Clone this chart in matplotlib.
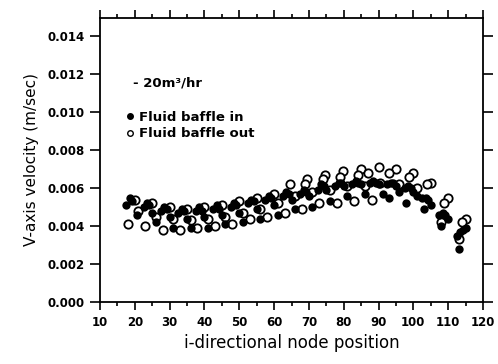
import matplotlib
matplotlib.use("Agg")
import matplotlib.pyplot as plt
from matplotlib.lines import Line2D
from matplotlib.ticker import MultipleLocator

# ---- data ----
in_upper_x = [17.5, 18.5, 19.2, 20.5, 22.5, 23.5, 24.2, 25, 27.5, 28.5, 29.2, 30,
              32.5, 33.5, 34.2, 35, 37.5, 38.5, 39.2, 40, 42.5, 43.5, 44.2, 45,
              47.5, 48.5, 49.2, 50, 52.5, 53.5, 54.2, 55, 57.5, 58.5, 59.2, 60,
              62.5, 63.5, 64.2, 65, 67.5, 68.5, 69.2, 70, 72.5, 73.5, 74.2, 75,
              77.5, 78.5, 79.2, 80, 82.5, 83.5, 84.2, 85, 87.5, 88.5, 89.2, 90,
              92.5, 93.5, 94.2, 95, 97.5, 98.5, 99.2, 100, 102.5, 103.5, 104.2, 105,
              107.5, 108.5, 109.2, 110, 112.5, 113.5, 114.2, 115]
in_upper_y = [0.0051, 0.0055, 0.0053, 0.0046, 0.0050, 0.0052, 0.0051, 0.0047,
              0.0048, 0.0050, 0.0049, 0.0045, 0.0047, 0.0049, 0.0048, 0.0044,
              0.0048, 0.0050, 0.0048, 0.0045, 0.0049, 0.0051, 0.0049, 0.0046,
              0.0050, 0.0052, 0.0051, 0.0047, 0.0052, 0.0054, 0.0053, 0.0049,
              0.0054, 0.0056, 0.0055, 0.0051, 0.0056, 0.0058, 0.0057, 0.0054,
              0.0057, 0.0059, 0.0058, 0.0056, 0.0059, 0.0062, 0.0061, 0.0059,
              0.0061, 0.0063, 0.0063, 0.0061, 0.0062, 0.0064, 0.0063, 0.0062,
              0.0063, 0.0064, 0.0063, 0.0062, 0.0062, 0.0063, 0.0063, 0.0061,
              0.0060, 0.0061, 0.0060, 0.0058, 0.0055, 0.0055, 0.0054, 0.0051,
              0.0046, 0.0047, 0.0046, 0.0044, 0.0035, 0.0037, 0.0038, 0.0039]
in_lower_x = [26, 31, 36, 41, 46, 51, 56, 61, 66, 71, 76, 81, 86, 91.4, 93, 96,
              98, 101, 103, 108, 113]
in_lower_y = [0.0042, 0.0039, 0.0039, 0.0039, 0.0041, 0.0042, 0.0044, 0.0046,
              0.0049, 0.0050, 0.0053, 0.0056, 0.0057, 0.0057, 0.0055, 0.0058,
              0.0052, 0.0056, 0.0049, 0.0040, 0.0028]

out_upper_x = [20, 21, 25, 26, 30, 31, 35, 36, 40, 41, 45, 46, 50, 51, 55, 56,
               60, 61, 64.5, 66, 69.5, 68.8, 71, 74.6, 74, 76, 79.8, 79, 81,
               85, 84, 86, 90, 87, 90.5, 95, 93, 96, 100, 98.8, 101, 105, 103.8,
               110, 108.7, 115, 114]
out_upper_y = [0.0054, 0.0048, 0.0052, 0.0045, 0.0050, 0.0044, 0.0049, 0.0043,
               0.0050, 0.0044, 0.0051, 0.0045, 0.0053, 0.0047, 0.0055, 0.0049,
               0.0057, 0.0052, 0.0062, 0.0056, 0.0065, 0.0062, 0.0058, 0.0067,
               0.0065, 0.0059, 0.0069, 0.0066, 0.0061, 0.0070, 0.0067, 0.0061,
               0.0071, 0.0068, 0.0063, 0.0070, 0.0068, 0.0062, 0.0068, 0.0066,
               0.0060, 0.0063, 0.0062, 0.0055, 0.0052, 0.0044, 0.0042]
out_lower_x = [18, 23, 28, 33, 38, 43, 48, 53, 58, 63, 68, 73, 78, 83, 88, 108, 113]
out_lower_y = [0.0041, 0.0040, 0.0038, 0.0038, 0.0039, 0.0040, 0.0041, 0.0044,
               0.0045, 0.0047, 0.0049, 0.0052, 0.0052, 0.0053, 0.0054, 0.0042, 0.0033]

x_ticks = [10, 20, 30, 40, 50, 60, 70, 80, 90, 100, 110, 120]
y_ticks = [0.000, 0.002, 0.004, 0.006, 0.008, 0.010, 0.012, 0.014]
x_label = "i-directional node position"
y_label = "V-axis velocity (m/sec)"
flow_text = "- 20m³/hr"
series_names = ["Fluid baffle in", "Fluid baffle out"]

# ---- figure ----
fig = plt.figure(figsize=(4.98, 3.64), dpi=100)
ax = fig.add_axes([0.2008, 0.1703, 0.7691, 0.7816])

ms = 36
ax.scatter(out_upper_x + out_lower_x, out_upper_y + out_lower_y, s=ms,
           facecolors="white", edgecolors="black", linewidths=1.3, zorder=3)
ax.scatter(in_upper_x + in_lower_x, in_upper_y + in_lower_y, s=ms,
           color="black", linewidths=0, zorder=4)

ax.set_xlim(10, 120)
ax.set_ylim(0, 0.015)
ax.set_xticks(x_ticks)
ax.xaxis.set_minor_locator(MultipleLocator(5))
ax.set_yticks(y_ticks)
ax.set_yticklabels([f"{v:.3f}" for v in y_ticks])

for s in ax.spines.values():
    s.set_linewidth(1.3)

ax.tick_params(axis="both", which="major", direction="out", width=1.2,
               labelsize=8.5, pad=4)
ax.tick_params(axis="x", which="minor", length=3, width=1.2, top=True, bottom=True)
ax.tick_params(axis="y", which="major", length=7, left=True, right=True)
ax.tick_params(axis="x", which="major", length=6, top=True, bottom=True)
for lab in ax.get_xticklabels() + ax.get_yticklabels():
    lab.set_fontweight("bold")

ax.set_xlabel(x_label, fontsize=12, labelpad=4)
ax.set_ylabel(y_label, fontsize=11, labelpad=6)

ax.text(0.086, 0.77, flow_text, transform=ax.transAxes, fontsize=9.5,
        fontweight="bold", va="center", ha="left")

handles = [Line2D([], [], linestyle="none", marker="o", markersize=4,
                  markerfacecolor="black", markeredgecolor="black"),
           Line2D([], [], linestyle="none", marker="o", markersize=4,
                  markerfacecolor="white", markeredgecolor="black",
                  markeredgewidth=1)]
leg = ax.legend(handles, series_names, loc="upper left",
                bbox_to_anchor=(0.055, 0.69), frameon=False,
                handlelength=0.6, handletextpad=0.35, labelspacing=0.25,
                borderaxespad=0, prop={"weight": "bold", "size": 9.5})

fig.savefig("out.png", dpi=100)
